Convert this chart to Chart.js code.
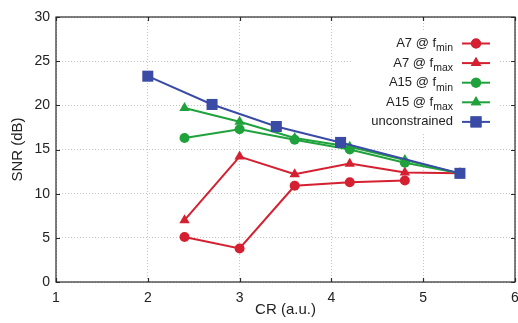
<!DOCTYPE html>
<html>
<head>
<meta charset="utf-8">
<script src="https://cdn.jsdelivr.net/npm/chart.js@4"></script>
<style>
    html, body { margin: 0; padding: 0; background: #fff; }
    #wrap { width: 518px; height: 323px; position: relative; }
</style>
</head>
<body>
<div id="wrap"><canvas id="snrChart" width="518" height="323"></canvas></div>
<script>
// chart data
const xTicks = [1, 2, 3, 4, 5, 6];
const yTicks = [0, 5, 10, 15, 20, 25, 30];
const crA7Min = [2.4, 3.0, 3.6, 4.2, 4.8];
const snrA7Min = [5.1, 3.8, 10.9, 11.3, 11.5];
const crA7Max = [2.4, 3.0, 3.6, 4.2, 4.8, 5.4];
const snrA7Max = [7.0, 14.2, 12.2, 13.4, 12.4, 12.3];
const crA15 = [2.4, 3.0, 3.6, 4.2, 4.8, 5.4];
const snrA15Min = [16.3, 17.3, 16.1, 15.0, 13.5, 12.3];
const snrA15Max = [19.7, 18.15, 16.3, 15.3, 13.8, 12.3];
const crUnc = [2.0, 2.7, 3.4, 4.1, 5.4];
const snrUnc = [23.3, 20.1, 17.6, 15.8, 12.3];

const RED = "#d42030";
const GREEN = "#1fa23c";
const BLUE = "#3a4ba6";
const FONT = "'Liberation Sans', Arial, Helvetica, sans-serif";

function pts(xs, ys) {
    return xs.map((x, i) => ({ x: x, y: ys[i] }));
}

const legendItems = [
    { main: "A7 @ f", sub: "min", color: RED, style: "circle", r: 5 },
    { main: "A7 @ f", sub: "max", color: RED, style: "triangle", r: 6 },
    { main: "A15 @ f", sub: "min", color: GREEN, style: "circle", r: 5 },
    { main: "A15 @ f", sub: "max", color: GREEN, style: "triangle", r: 6 },
    { main: "unconstrained", sub: "", color: BLUE, style: "rect", r: 7.8 }
];

// box, inward ticks and the key
const framePlugin = {
    id: "frame",
    afterDraw(chart) {
        const ctx = chart.ctx;
        const a = chart.chartArea;
        const xs = chart.scales.x, ys = chart.scales.y;
        ctx.save();
        ctx.strokeStyle = "#2a2a2a";
        ctx.lineWidth = 1.2;
        ctx.beginPath();
        xTicks.forEach(v => {
            const px = Math.round(xs.getPixelForValue(v)) + 0.5;
            ctx.moveTo(px, a.bottom); ctx.lineTo(px, a.bottom - 4);
            ctx.moveTo(px, a.top); ctx.lineTo(px, a.top + 4);
        });
        yTicks.forEach(v => {
            const py = Math.round(ys.getPixelForValue(v)) + 0.5;
            ctx.moveTo(a.left, py); ctx.lineTo(a.left + 4, py);
            ctx.moveTo(a.right, py); ctx.lineTo(a.right - 4, py);
        });
        ctx.stroke();
        ctx.strokeRect(a.left, a.top, a.right - a.left, a.bottom - a.top);

        // key
        ctx.fillStyle = "#fff";
        ctx.fillRect(353, 32, 145, 100);
        const textRight = 453;
        legendItems.forEach((it, i) => {
            const y = 43.5 + i * 19.6;
            ctx.fillStyle = "#222";
            ctx.textBaseline = "middle";
            ctx.textAlign = "right";
            let right = textRight;
            if (it.sub) {
                ctx.font = "10.5px " + FONT;
                ctx.fillText(it.sub, right, y + 5);
                right -= ctx.measureText(it.sub).width;
            }
            ctx.font = "13px " + FONT;
            ctx.fillText(it.main, right, y);
            ctx.strokeStyle = it.color;
            ctx.lineWidth = 2;
            ctx.beginPath();
            ctx.moveTo(462, y); ctx.lineTo(490, y);
            ctx.stroke();
            ctx.fillStyle = it.color;
            Chart.helpers.drawPoint(ctx, { pointStyle: it.style, radius: it.r, borderWidth: 0, rotation: 0 }, 476, y);
            ctx.fill();
        });
        ctx.restore();
    }
};

function series(data, color, style, r, order) {
    return {
        data: data,
        showLine: true,
        borderColor: color,
        backgroundColor: color,
        borderWidth: 2,
        pointStyle: style,
        pointRadius: r,
        pointBorderWidth: 0,
        pointHoverRadius: r,
        order: order
    };
}

new Chart(document.getElementById("snrChart"), {
    type: "scatter",
    data: {
        datasets: [
            series(pts(crA7Min, snrA7Min), RED, "circle", 5, 4),
            series(pts(crA7Max, snrA7Max), RED, "triangle", 6, 3),
            series(pts(crA15, snrA15Min), GREEN, "circle", 5, 2),
            series(pts(crA15, snrA15Max), GREEN, "triangle", 6, 1),
            series(pts(crUnc, snrUnc), BLUE, "rect", 7.8, 0)
        ]
    },
    options: {
        responsive: false,
        animation: false,
        events: [],
        layout: { autoPadding: false, padding: { top: 17, right: 3, left: 0, bottom: 0 } },
        plugins: { legend: { display: false }, tooltip: { enabled: false } },
        scales: {
            x: {
                type: "linear",
                min: 1, max: 6,
                afterFit(s) { s.height = 41; s.paddingLeft = 0; s.paddingRight = 0; },
                afterBuildTicks(s) { s.ticks = xTicks.map(v => ({ value: v })); },
                grid: { color: "#c4c4c4", lineWidth: 1, drawTicks: false, tickLength: 0 },
                border: { display: false, dash: [1, 2] },
                ticks: { color: "#222", padding: 8, maxRotation: 0, font: { family: FONT, size: 14 } },
                title: { display: true, text: "CR (a.u.)", color: "#222", padding: { top: 0, bottom: 4 }, font: { family: FONT, size: 15 } }
            },
            y: {
                type: "linear",
                min: 0, max: 30,
                afterFit(s) { s.width = 56; s.paddingTop = 0; s.paddingBottom = 0; },
                afterBuildTicks(s) { s.ticks = yTicks.map(v => ({ value: v })); },
                grid: { color: "#c4c4c4", lineWidth: 1, drawTicks: false, tickLength: 0 },
                border: { display: false, dash: [1, 2] },
                ticks: { color: "#222", padding: 6, font: { family: FONT, size: 14 } },
                title: { display: true, text: "SNR (dB)", color: "#222", padding: { top: 9, bottom: 0 }, font: { family: FONT, size: 15 } }
            }
        }
    },
    plugins: [framePlugin]
});
</script>
</body>
</html>
